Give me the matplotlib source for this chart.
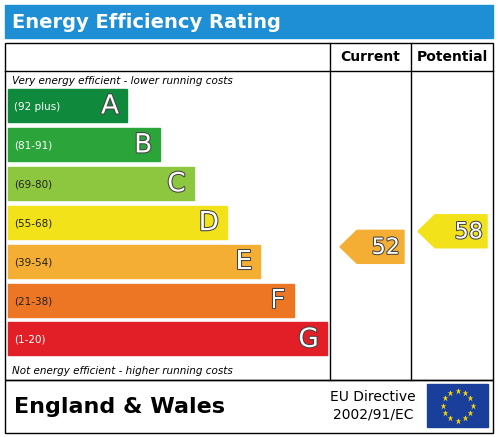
import matplotlib.pyplot as plt
from matplotlib.patches import Rectangle, Polygon
import matplotlib.patheffects as pe
import numpy as np

bands = ['A', 'B', 'C', 'D', 'E', 'F', 'G']
ranges = ['(92 plus)', '(81-91)', '(69-80)', '(55-68)', '(39-54)', '(21-38)', '(1-20)']
colors = ['#0f8a3c', '#2ba43a', '#8dc63f', '#f2e21a', '#f4ae33', '#ec7623', '#e21e26']
lower_bounds = [92, 81, 69, 55, 39, 21, 1]
upper_bounds = [100, 91, 80, 68, 54, 38, 20]
current = 52
potential = 58

fig = plt.figure(figsize=(4.98, 4.37), dpi=100)
ax = fig.add_axes([0, 0, 1, 1])
ax.set_xlim(0, 498)
ax.set_ylim(437, 0)
ax.axis('off')

# title bar
ax.add_patch(Rectangle((5, 5), 488, 33, color='#1e8fd5'))
ax.text(12, 22, 'Energy Efficiency Rating', color='white', fontsize=14,
        fontweight='bold', va='center')

# frame
ax.add_patch(Rectangle((5, 43), 488, 337, fill=False, lw=1, ec='black'))
ax.add_patch(Rectangle((5, 380), 488, 53, fill=False, lw=1, ec='black'))
ax.plot([330, 330], [43, 380], color='black', lw=1)
ax.plot([411, 411], [43, 380], color='black', lw=1)
ax.plot([5, 493], [71, 71], color='black', lw=1)
ax.text(370, 57, 'Current', ha='center', va='center', fontsize=10, fontweight='bold')
ax.text(452, 57, 'Potential', ha='center', va='center', fontsize=10, fontweight='bold')

ax.text(12, 81, 'Very energy efficient - lower running costs', fontsize=7.5,
        style='italic', va='center')
ax.text(12, 371, 'Not energy efficient - higher running costs', fontsize=7.5,
        style='italic', va='center')

outline = [pe.withStroke(linewidth=1.5, foreground='#444444')]
top = 89
step = 38.9
h = 33
for i, (b, r, c) in enumerate(zip(bands, ranges, colors)):
    y = top + i * step
    right = 127 + i * 33.3
    ax.add_patch(Rectangle((8, y), right - 8, h, color=c))
    ax.text(14, y + h / 2 + 1, r, fontsize=7.5, va='center',
            color='white' if b in 'ABG' else '#222222')
    ax.text(right - 8, y + h / 2 + 1, b, fontsize=19, ha='right',
            va='center', color='white', path_effects=outline)

centers = [top + i * step + h / 2 for i in range(7)]
mids = [(lo + hi) / 2 for lo, hi in zip(lower_bounds, upper_bounds)]


def band_of(v):
    for i, lb in enumerate(lower_bounds):
        if v >= lb:
            return i
    return len(lower_bounds) - 1


def arrow(x0, x1, v):
    i = band_of(v)
    cy = np.interp(v, mids[::-1], centers[::-1])
    y = cy - h / 2
    pts = [(x0, cy), (x0 + 17, y), (x1, y), (x1, y + h), (x0 + 17, y + h)]
    ax.add_patch(Polygon(pts, color=colors[i]))
    ax.text(x1 - 4, cy + 1, str(v), fontsize=16, ha='right', va='center',
            color='white', path_effects=outline)


arrow(340, 404, current)
arrow(418, 487, potential)

# footer
ax.text(14, 407, 'England & Wales', fontsize=16, fontweight='bold', va='center')
ax.text(373, 397, 'EU Directive', fontsize=10, ha='center', va='center')
ax.text(373, 415, '2002/91/EC', fontsize=10, ha='center', va='center')
ax.add_patch(Rectangle((427, 384), 61, 43, color='#1a3f9b'))
for k in range(12):
    a = 2 * np.pi * k / 12
    ax.plot(457.5 + 15 * np.cos(a), 405.5 + 15 * np.sin(a), marker='*',
            color='#ffdd00', ms=5, mec='none')

fig.savefig('out.png', dpi=100)
